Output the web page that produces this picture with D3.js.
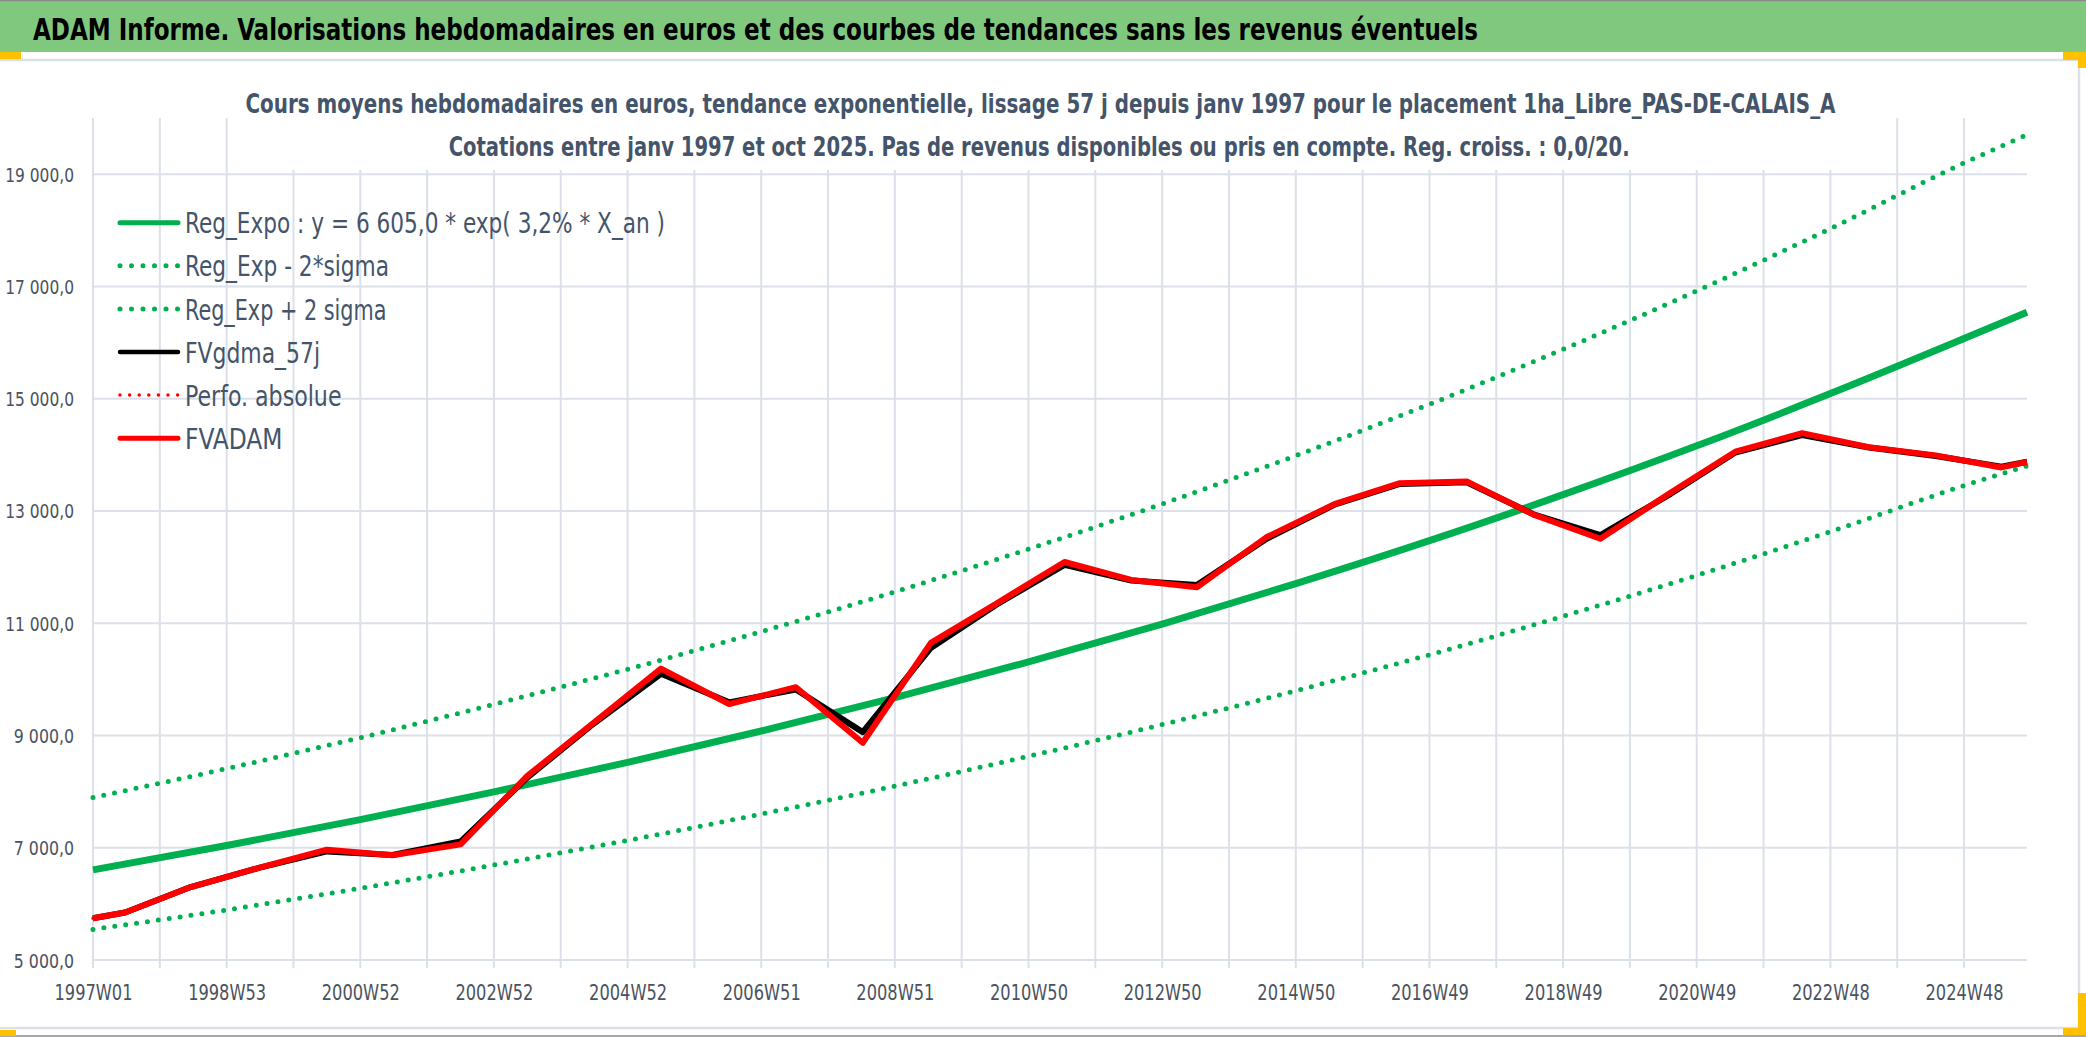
<!DOCTYPE html>
<html><head><meta charset="utf-8">
<script src="https://cdn.jsdelivr.net/npm/d3@7"></script>
<style>body{margin:0;background:#fff;overflow:hidden} svg{display:block}</style>
</head><body><svg id="c" width="2086" height="1037"></svg>
<script>
// ---------- DATA ----------
const longYears = [1998, 2004, 2009, 2015, 2020];       // ISO years with 53 weeks
const firstYear = 1997, lastYear = 2025, lastWeekLabel = "2025W45";
const xTickLabels = ["1997W01","1998W53","2000W52","2002W52","2004W52","2006W51","2008W51","2010W50","2012W50","2014W50","2016W49","2018W49","2020W49","2022W48","2024W48"];
const yTicks = [5000, 7000, 9000, 11000, 13000, 15000, 17000, 19000];

const trendWeeks = ["1997W01","1998W53","2000W52","2002W52","2004W52","2006W51","2008W51","2010W50","2012W50","2014W50","2016W49","2018W49","2020W49","2022W48","2024W48","2025W45"];
const regExpo  = [6605, 7040, 7500, 7995, 8520, 9080, 9675, 10310, 10985, 11705, 12470, 13290, 14160, 15090, 16070, 16540];
const regUpper = [7895, 8410, 8960, 9555, 10180, 10850, 11560, 12320, 13125, 13985, 14900, 15880, 16920, 18030, 19200, 19700];
const regLower = [5545, 5892, 6278, 6692, 7131, 7600, 8098, 8629, 9194, 9797, 10437, 11124, 11852, 12630, 13451, 13800];

const pointWeeks = ["1997W01","1997W26","1998W25","1999W25","2000W26","2001W25","2002W26","2003W26","2004W25","2005W25",
                    "2006W26","2007W26","2008W26","2009W27","2010W25","2011W26","2012W26","2013W25","2014W27","2015W28",
                    "2016W26","2017W26","2018W26","2019W26","2020W27","2021W26","2022W26","2023W26","2024W26","2025W25","2025W45"];
const fvadam = [5745, 5845, 6300, 6640, 6965, 6865, 7060, 8280, 9215, 10190,
                9560, 9860, 8870, 10650, 11350, 12090, 11770, 11640, 12530, 13120,
                13495, 13525, 12935, 12505, 13300, 14055, 14385, 14135, 13990, 13775, 13875];
const fvgdma = [5745, 5845, 6300, 6640, 6935, 6870, 7110, 8250, 9200, 10100,
                9590, 9820, 9060, 10560, 11330, 12040, 11760, 11680, 12500, 13110,
                13480, 13510, 12940, 12570, 13280, 14040, 14350, 14130, 13980, 13790, 13875];
const perfoAbsolue = [5745, 5845, 6300, 6640, 6965, 6865, 7060, 8280, 9215, 10190,
                9560, 9860, 8870, 10650, 11350, 12090, 11770, 11640, 12530, 13120,
                13495, 13525, 12935, 12505, 13300, 14055, 14385, 14135, 13990, 13775, 13875];

const legendNames = ["Reg_Expo : y = 6 605,0 * exp( 3,2% *  X_an )", "Reg_Exp - 2*sigma", "Reg_Exp + 2 sigma", "FVgdma_57j", "Perfo. absolue", "FVADAM"];

const titleText = "ADAM Informe. Valorisations hebdomadaires en euros et des courbes de tendances sans les revenus éventuels";
const sub1 = "Cours moyens hebdomadaires en euros, tendance exponentielle, lissage 57 j depuis janv 1997 pour le placement 1ha_Libre_PAS-DE-CALAIS_A";
const sub2 = "Cotations entre janv 1997 et oct 2025. Pas de revenus disponibles ou pris en compte. Reg. croiss. : 0,0/20.";

// ---------- CATEGORIES (weekly labels) ----------
const weeks = [];
for (let y = firstYear; y <= lastYear; y++) {
  const n = longYears.includes(y) ? 53 : 52;
  for (let w = 1; w <= n; w++) {
    const lab = y + "W" + String(w).padStart(2, "0");
    weeks.push(lab);
    if (lab === lastWeekLabel) break;
  }
}

// ---------- DRAW ----------
const FONT = "'Liberation Sans Narrow','DejaVu Sans Condensed','Open Sans',sans-serif";
const svg = d3.select("#c");
const L = 93, R = 2027, T = 118, B = 960;
const x = d3.scalePoint().domain(weeks).range([L, R]);
const y = d3.scaleLinear().domain([5000, 20000]).range([B, T]);
const loc = d3.formatLocale({decimal: ",", thousands: " ", grouping: [3], currency: ["", ""]});
const fmt = loc.format(",.1f");

// header
svg.append("rect").attr("x", 0).attr("y", 0).attr("width", 2086).attr("height", 52).attr("fill", "#80C87E");
svg.append("line").attr("x1", 0).attr("x2", 2086).attr("y1", 0.5).attr("y2", 0.5).attr("stroke", "#8a8a8a").attr("stroke-width", 1.5);
svg.append("text").attr("x", 33).attr("y", 40).text(titleText)
  .attr("font-family", FONT).attr("font-size", 30).attr("font-weight", "bold").attr("fill", "#000")
  .attr("textLength", 1445).attr("lengthAdjust", "spacingAndGlyphs");

// chart area border
const bc = "#DDE0E6";
svg.append("path").attr("d", "M0,60 H2079 V1028 H0").attr("fill", "none").attr("stroke", bc).attr("stroke-width", 2.5);
svg.append("line").attr("x1", 0).attr("x2", 2086).attr("y1", 1036).attr("y2", 1036).attr("stroke", "#8a8a8a").attr("stroke-width", 1.5);
// selection handles
const hc = "#FFC000";
svg.append("rect").attr("x", 0).attr("y", 52).attr("width", 21).attr("height", 7).attr("fill", hc);
svg.append("path").attr("d", "M2063,52 H2086 V68 H2078 V60 H2063 Z").attr("fill", hc);
svg.append("rect").attr("x", 0).attr("y", 1030).attr("width", 16).attr("height", 6).attr("fill", hc);
svg.append("path").attr("d", "M2078,993 H2086 V1035 H2063 V1028 H2078 Z").attr("fill", hc);

// gridlines
const gc = "#DCE0E8";
const gridWeeks = weeks.filter((d, i) => i % 52 === 0);
svg.append("g").selectAll("line").data(yTicks).join("line")
  .attr("x1", L).attr("x2", R).attr("y1", d => y(d)).attr("y2", d => y(d))
  .attr("stroke", gc).attr("stroke-width", 2);
svg.append("g").selectAll("line").data(gridWeeks).join("line")
  .attr("x1", d => x(d)).attr("x2", d => x(d)).attr("y1", T).attr("y2", B + 8)
  .attr("stroke", gc).attr("stroke-width", 2);

// title box (white) + subtitles
svg.append("rect").attr("x", 238).attr("y", 62).attr("width", 1607).attr("height", 108).attr("fill", "#fff");
const stc = "#44546A";
svg.append("text").attr("x", 245.5).attr("y", 113).text(sub1)
  .attr("font-family", FONT).attr("font-size", 27).attr("font-weight", "bold").attr("fill", stc)
  .attr("textLength", 1590).attr("lengthAdjust", "spacingAndGlyphs");
svg.append("text").attr("x", 448.7).attr("y", 156).text(sub2)
  .attr("font-family", FONT).attr("font-size", 27).attr("font-weight", "bold").attr("fill", stc)
  .attr("textLength", 1181).attr("lengthAdjust", "spacingAndGlyphs");

// axes (labels only)
const ax = svg.append("g").attr("transform", `translate(0,${B})`)
  .call(d3.axisBottom(x).tickValues(xTickLabels).tickSize(0).tickPadding(0));
ax.select(".domain").remove();
ax.selectAll("text").attr("y", 40).attr("dy", 0)
  .attr("font-family", FONT).attr("font-size", 21).attr("fill", "#4A5260")
  .attr("textLength", 78).attr("lengthAdjust", "spacingAndGlyphs");

const ay = svg.append("g").attr("transform", `translate(74,0)`)
  .call(d3.axisLeft(y).tickValues(yTicks).tickFormat(fmt).tickSize(0).tickPadding(0));
ay.select(".domain").remove();
ay.selectAll("text").attr("dy", 7).attr("x", 0)
  .attr("font-family", FONT).attr("font-size", 20).attr("fill", "#4A5260")
  .attr("textLength", function(d){ return fmt(d).length * 8.6; }).attr("lengthAdjust", "spacingAndGlyphs");

// series
const GREEN = "#00B050";
const trendLine = d3.line().x(d => x(d[0])).y(d => y(d[1])).curve(d3.curveMonotoneX);
const straight = d3.line().x(d => x(d[0])).y(d => y(d[1]));
const zip = (ws, vs) => ws.map((w, i) => [w, vs[i]]);
const plot = svg.append("g");
plot.append("path").attr("d", trendLine(zip(trendWeeks, regLower))).attr("fill", "none")
  .attr("stroke", GREEN).attr("stroke-width", 5).attr("stroke-linecap", "round").attr("stroke-dasharray", "0 11");
plot.append("path").attr("d", trendLine(zip(trendWeeks, regUpper))).attr("fill", "none")
  .attr("stroke", GREEN).attr("stroke-width", 5).attr("stroke-linecap", "round").attr("stroke-dasharray", "0 11");
plot.append("path").attr("d", trendLine(zip(trendWeeks, regExpo))).attr("fill", "none")
  .attr("stroke", GREEN).attr("stroke-width", 7);
plot.append("path").attr("d", straight(zip(pointWeeks, fvgdma))).attr("fill", "none")
  .attr("stroke", "#000").attr("stroke-width", 6).attr("stroke-linejoin", "round");
plot.append("path").attr("d", straight(zip(pointWeeks, perfoAbsolue))).attr("fill", "none")
  .attr("stroke", "#FF0000").attr("stroke-width", 3.5).attr("stroke-linecap", "round").attr("stroke-dasharray", "0 9.6");
plot.append("path").attr("d", straight(zip(pointWeeks, fvadam))).attr("fill", "none")
  .attr("stroke", "#FF0000").attr("stroke-width", 6).attr("stroke-linejoin", "round");

// legend
const legendStyles = [
  {c: GREEN, w: 5, dash: null, cap: "round"},
  {c: GREEN, w: 5, dash: "0 11.5", cap: "round"},
  {c: GREEN, w: 5, dash: "0 11.5", cap: "round"},
  {c: "#000", w: 4.5, dash: null, cap: "round"},
  {c: "#FF0000", w: 3.5, dash: "0 9.6", cap: "round"},
  {c: "#FF0000", w: 5, dash: null, cap: "round"}
];
const legendWidths = [480, 204, 201.5, 135, 156.5, 97.5];
const lg = svg.append("g");
legendNames.forEach((name, i) => {
  const cy = 222.7 + i * 43.1;
  const st = legendStyles[i];
  lg.append("line").attr("x1", 120).attr("x2", 178).attr("y1", cy).attr("y2", cy)
    .attr("stroke", st.c).attr("stroke-width", st.w).attr("stroke-linecap", st.cap)
    .attr("stroke-dasharray", st.dash);
  lg.append("text").attr("x", 185).attr("y", cy + 10.6).text(name)
    .attr("font-family", FONT).attr("font-size", 28).attr("fill", "#44546A")
    .attr("textLength", legendWidths[i]).attr("lengthAdjust", "spacingAndGlyphs");
});
</script></body></html>
